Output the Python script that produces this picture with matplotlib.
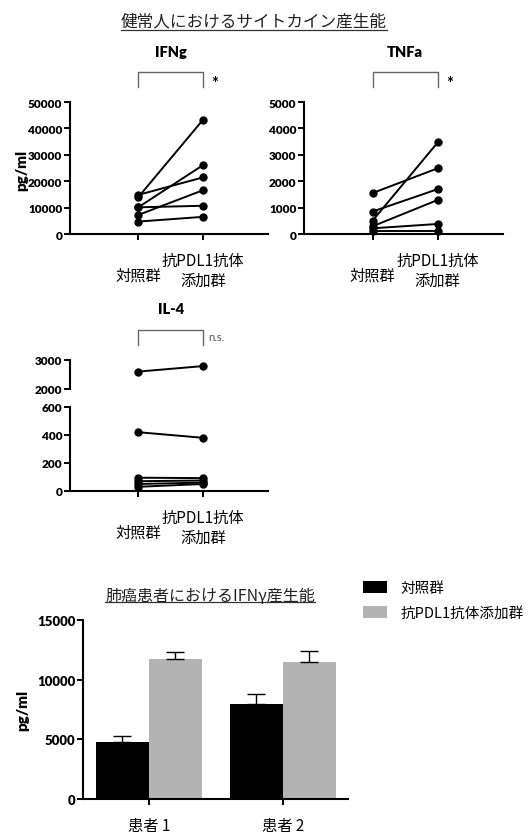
import numpy as np
import matplotlib
matplotlib.use('Agg')
import matplotlib.pyplot as plt
from matplotlib.lines import Line2D

W, H = 528, 837
PT = 0.72  # points per pixel at dpi 100

# paired donor data (pg/ml)
ifng_ctrl = [13900, 14800, 10100, 10100, 7200, 4700]
ifng_pdl1 = [43300, 21450, 26100, 10700, 16600, 6500]
tnfa_ctrl = [1550, 850, 500, 290, 215, 120]
tnfa_pdl1 = [2490, 1700, 3470, 1290, 380, 120]
il4_ctrl = [2600, 420, 95, 70, 50, 30]
il4_pdl1 = [2790, 380, 92, 75, 60, 50]

group_ctrl = '対照群'
group_pdl1 = '抗PDL1抗体\n添加群'

# lung cancer patients
patients = ['患者 1', '患者 2']
bar_ctrl = [4800, 8000]
bar_ctrl_err = [450, 800]
bar_pdl1 = [11730, 11480]
bar_pdl1_err = [620, 950]
legend_labels = ['対照群', '抗PDL1抗体添加群']

plt.rcParams['font.family'] = ['Lato', 'Noto Sans CJK JP', 'DejaVu Sans']
plt.rcParams['font.weight'] = 'heavy'
JP = ['Noto Sans CJK JP', 'DejaVu Sans']

fig = plt.figure(figsize=(W / 100, H / 100), dpi=100)


def px_axes(x0, y0, x1, y1):
    return fig.add_axes([x0 / W, 1 - y1 / H, (x1 - x0) / W, (y1 - y0) / H])


def style(ax, labelsize=8.5, bottom=True):
    ax.spines['top'].set_visible(False)
    ax.spines['right'].set_visible(False)
    ax.spines['left'].set_linewidth(1.5)
    ax.spines['bottom'].set_linewidth(1.5)
    if not bottom:
        ax.spines['bottom'].set_visible(False)
        ax.tick_params(axis='x', bottom=False, labelbottom=False)
    ax.tick_params(width=1.4, length=4, labelsize=labelsize, pad=1.5)
    ax.patch.set_alpha(0)


def group_labels(ax):
    ax.set_xticks([0, 1])
    ax.set_xticklabels(['', ''])
    ax.annotate(group_ctrl, xy=(0, 0), xycoords=('data', 'axes fraction'),
                xytext=(0, -41 * PT), textcoords='offset points', ha='center',
                va='center', fontsize=11, fontweight='normal', family=JP)
    ax.annotate(group_pdl1, xy=(1, 0), xycoords=('data', 'axes fraction'),
                xytext=(0, -36.5 * PT), textcoords='offset points', ha='center',
                va='center', fontsize=11, fontweight='normal', family=JP,
                linespacing=1.2)


def header(ax, title, mark):
    h = ax.get_position().height * H
    f = lambda px: 1 + px / h
    ax.plot([0, 0, 1, 1], [f(15), f(30), f(30), f(15)], color='#666666', lw=1,
            transform=ax.get_xaxis_transform(), clip_on=False)
    ax.annotate(title, xy=(0.5, 1), xycoords=('data', 'axes fraction'),
                xytext=(0, 51 * PT), textcoords='offset points', ha='center',
                va='center', fontsize=10.5)
    if mark == '*':
        ax.annotate('*', xy=(1, 1), xycoords=('data', 'axes fraction'),
                    xytext=(12 * PT, 19 * PT), textcoords='offset points',
                    ha='center', va='center', fontsize=12, fontweight='bold')
    else:
        ax.annotate(mark, xy=(1, 1), xycoords=('data', 'axes fraction'),
                    xytext=(5 * PT, 23 * PT), textcoords='offset points',
                    ha='left', va='center', fontsize=8, fontweight='normal',
                    color='#555555')


def paired(ax, ctrl, pdl1):
    for a, b in zip(ctrl, pdl1):
        ax.plot([0, 1], [a, b], color='black', lw=1.4, marker='o', ms=5,
                clip_on=False, zorder=3)


# IFNg
ax1 = px_axes(70, 103, 268, 235)
paired(ax1, ifng_ctrl, ifng_pdl1)
ax1.set_xlim(-1.05, 2.0)
ax1.set_ylim(0, 50000)
ax1.set_yticks([0, 10000, 20000, 30000, 40000, 50000])
style(ax1)
group_labels(ax1)
header(ax1, 'IFNg', '*')

# TNFa
ax2 = px_axes(304, 103, 503, 235)
paired(ax2, tnfa_ctrl, tnfa_pdl1)
ax2.set_xlim(-1.05, 2.0)
ax2.set_ylim(0, 5000)
ax2.set_yticks([0, 1000, 2000, 3000, 4000, 5000])
style(ax2)
group_labels(ax2)
header(ax2, 'TNFa', '*')

# IL-4 with broken axis
ax3t = px_axes(70, 361, 268, 390)
ax3b = px_axes(70, 408, 268, 492)
for a, b in zip(il4_ctrl, il4_pdl1):
    target = ax3t if min(a, b) >= 2000 else ax3b
    target.plot([0, 1], [a, b], color='black', lw=1.4, marker='o', ms=5,
                clip_on=False, zorder=3)
for ax in (ax3t, ax3b):
    ax.set_xlim(-1.05, 2.0)
ax3t.set_ylim(2000, 3000)
ax3t.set_yticks([2000, 3000])
ax3b.set_ylim(0, 600)
ax3b.set_yticks([0, 200, 400, 600])
style(ax3t, bottom=False)
style(ax3b)
group_labels(ax3b)
header(ax3t, 'IL-4', 'n.s.')

fig.text(22 / W, 1 - 170 / H, 'pg/ml', rotation=90, ha='center', va='center',
         fontsize=11)

# bar chart
ax4 = px_axes(83, 621, 348, 800)
x = np.arange(len(patients))
w = 0.395
b1 = ax4.bar(x - w / 2, bar_ctrl, w, color='black')
b2 = ax4.bar(x + w / 2, bar_pdl1, w, color='#b3b3b3')
ax4.errorbar(x - w / 2, bar_ctrl, yerr=[[0, 0], bar_ctrl_err], fmt='none',
             ecolor='black', elinewidth=1, capsize=6.5, capthick=1)
ax4.errorbar(x + w / 2, bar_pdl1, yerr=[[0, 0], bar_pdl1_err], fmt='none',
             ecolor='black', elinewidth=1, capsize=6.5, capthick=1)
ax4.set_xlim(-0.49, 1.485)
ax4.set_ylim(0, 15000)
ax4.set_yticks([0, 5000, 10000, 15000])
style(ax4, labelsize=9.5)
ax4.set_xticks(x)
ax4.set_xticklabels(patients, fontsize=11, fontweight='normal', family=JP)
ax4.tick_params(axis='x', pad=9)
fig.text(23 / W, 1 - 710 / H, 'pg/ml', rotation=90, ha='center', va='center',
         fontsize=11)

fig.legend([b1, b2], legend_labels, loc='upper left',
           bbox_to_anchor=(363 / W, 1 - 582 / H), frameon=False,
           prop=dict(family=JP, size=10.5, weight='normal'),
           handlelength=1.65, handleheight=0.9, handletextpad=0.9,
           labelspacing=0.75, borderpad=0, borderaxespad=0)

# underlined titles
t1 = fig.text(254 / W, 1 - 22 / H, '健常人におけるサイトカイン産生能', ha='center',
              va='center', fontsize=12, fontweight='normal', family=JP,
              color='#222222')
t2 = fig.text(210 / W, 1 - 596 / H, '肺癌患者におけるIFNγ産生能', ha='center',
              va='center', fontsize=11.5, fontweight='normal', family=JP,
              color='#222222')
fig.canvas.draw()
r = fig.canvas.get_renderer()
for t, ypx in ((t1, 31), (t2, 603)):
    bb = t.get_window_extent(r)
    fig.add_artist(Line2D([bb.x0 / W, bb.x1 / W], [1 - ypx / H, 1 - ypx / H],
                          color='#333333', lw=0.9))

fig.savefig('out.png', dpi=100)
